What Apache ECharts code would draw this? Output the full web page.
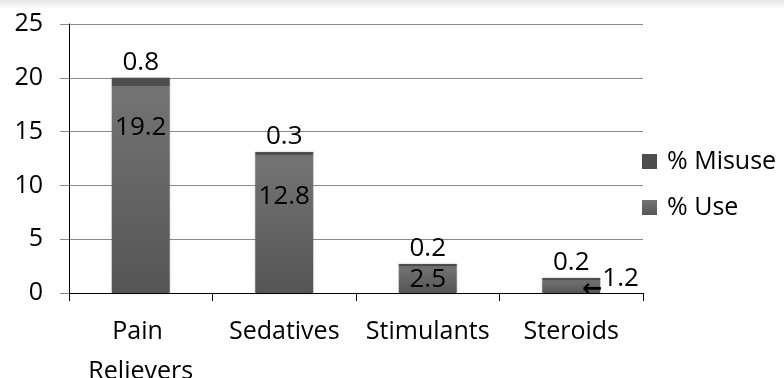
<!DOCTYPE html>
<html>
<head>
<meta charset="utf-8">
<script src="https://cdn.jsdelivr.net/npm/echarts@6/dist/echarts.min.js"></script>
<style>
  html, body { margin: 0; padding: 0; background: #fff; }
  #chart { width: 784px; height: 378px; }
</style>
</head>
<body>
<div id="chart"></div>
<script>
// Prescription drug categories and percentages
const categories = ['Pain Relievers', 'Sedatives', 'Stimulants', 'Steroids'];
const useValues = [19.2, 12.8, 2.5, 1.2];
const misuseValues = [0.8, 0.3, 0.2, 0.2];
const yTicks = { min: 0, max: 25, interval: 5 };

const FONT = 'Open Sans';
const useGradient = new echarts.graphic.LinearGradient(0, 0, 0, 1, [
  { offset: 0, color: '#747474' },
  { offset: 1, color: '#555555' }
]);
const misuseColor = '#4d4d4d';
const barShadow = { shadowColor: 'rgba(0,0,0,0.22)', shadowBlur: 3 };

// Per-bar label placement for the "% Use" values
const useLabelFor = (i) => {
  if (i === 3) {
    return {
      show: true,
      position: 'right',
      offset: [-23, -3],
      formatter: '{a|\u2190}{b|{c}}',
      rich: {
        a: { fontFamily: 'DejaVu Sans', fontSize: 24, fontWeight: 'bold', color: '#000', verticalAlign: 'bottom', padding: [12, 0, 0, 0] },
        b: { fontFamily: FONT, fontSize: 26, color: '#000', verticalAlign: 'top', padding: [0, 0, 8, 0] }
      }
    };
  }
  if (i === 2) return { show: true, position: 'inside' };
  return { show: true, position: 'insideTop', distance: 28 };
};

const chart = echarts.init(document.getElementById('chart'), null, { renderer: 'canvas' });
chart.setOption({
  animation: false,
  backgroundColor: '#fff',
  textStyle: { fontFamily: FONT },
  graphic: [{
    type: 'rect',
    silent: true,
    shape: { x: 0, y: 0, width: 784, height: 9 },
    style: {
      fill: new echarts.graphic.LinearGradient(0, 0, 0, 1, [
        { offset: 0, color: 'rgba(0,0,0,0.10)' },
        { offset: 1, color: 'rgba(0,0,0,0)' }
      ])
    }
  }],
  grid: { left: 69, right: 141, top: 24, bottom: 85, containLabel: false, outerBoundsMode: 'none' },
  legend: {
    orient: 'vertical',
    left: 637,
    top: 140,
    data: ['% Misuse', '% Use'],
    itemWidth: 15,
    itemHeight: 15,
    itemGap: 13,
    icon: 'rect',
    textStyle: { fontFamily: FONT, fontSize: 25, color: '#000', lineHeight: 33, padding: [0, 0, 0, 5] }
  },
  xAxis: {
    type: 'category',
    data: categories,
    axisLine: { lineStyle: { color: '#000', width: 1 } },
    axisTick: { show: true, length: 8, lineStyle: { color: '#000' } },
    axisLabel: {
      interval: 0,
      margin: 19,
      color: '#000',
      fontFamily: FONT,
      fontSize: 25,
      lineHeight: 40,
      width: 140,
      overflow: 'break'
    }
  },
  yAxis: {
    type: 'value',
    min: yTicks.min,
    max: yTicks.max,
    interval: yTicks.interval,
    axisLine: { show: true, lineStyle: { color: '#000', width: 1 } },
    axisTick: { show: true, length: 9, lineStyle: { color: '#888' } },
    splitLine: { lineStyle: { color: '#8a8a8a', width: 1 } },
    axisLabel: { margin: 26, color: '#000', fontFamily: FONT, fontSize: 25 }
  },
  series: [
    {
      name: '% Use',
      type: 'bar',
      stack: 'total',
      barWidth: 58,
      itemStyle: Object.assign({ color: useGradient }, barShadow),
      label: { color: '#000', fontFamily: FONT, fontSize: 26 },
      data: useValues.map((v, i) => ({ value: v, label: useLabelFor(i) }))
    },
    {
      name: '% Misuse',
      type: 'bar',
      stack: 'total',
      barWidth: 58,
      itemStyle: Object.assign({ color: misuseColor }, barShadow),
      label: { show: true, position: 'top', distance: 2, color: '#000', fontFamily: FONT, fontSize: 26 },
      data: misuseValues
    }
  ]
});
</script>
</body>
</html>
